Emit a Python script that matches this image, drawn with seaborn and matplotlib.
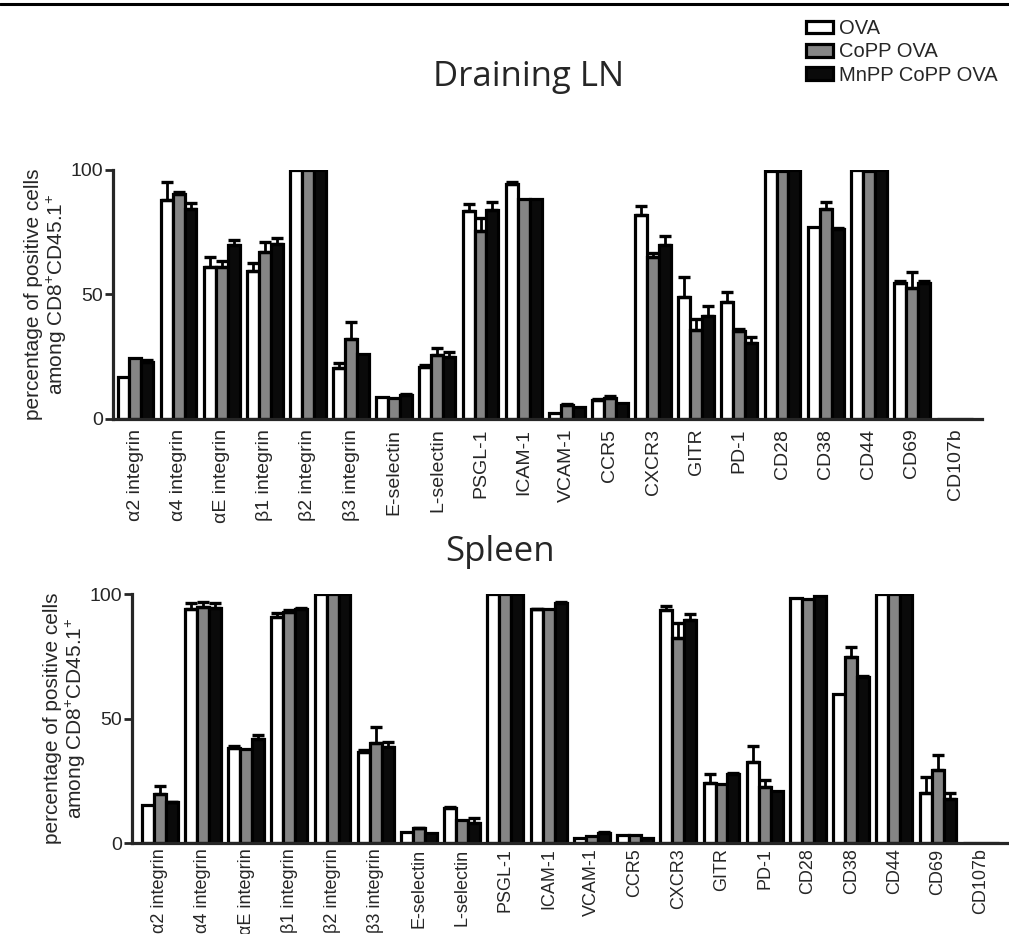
import numpy as np
import pandas as pd
import matplotlib
matplotlib.use("Agg")
import matplotlib.pyplot as plt
from matplotlib.lines import Line2D
from matplotlib.patches import Patch
import seaborn as sns

# ---- data -------------------------------------------------------------
markers = ["α2 integrin", "α4 integrin", "αE integrin", "β1 integrin", "β2 integrin",
           "β3 integrin", "E-selectin", "L-selectin", "PSGL-1", "ICAM-1", "VCAM-1",
           "CCR5", "CXCR3", "GITR", "PD-1", "CD28", "CD38", "CD44", "CD69", "CD107b"]
groups = ["OVA", "CoPP OVA", "MnPP CoPP OVA"]

# Draining LN: means and upper SEM
ova_ln = [17, 88, 61, 59.5, 100, 20.5, 9, 21, 83.5, 94.5, 2.3, 7.6, 82, 49, 47, 99.5, 77, 99.8, 54.5, 0]
copp_ln = [24.5, 90.5, 61, 67, 100, 32, 8.6, 25.7, 75.5, 88.5, 5.5, 8.6, 65.2, 35.7, 35.2, 99.5, 84.2, 99.5, 52.5, 0]
mnpp_ln = [23, 84.2, 70, 70.3, 100, 26, 9.8, 25, 84, 88.5, 4.8, 6.3, 69.8, 41.5, 30.4, 99.8, 76.3, 99.8, 54.8, 0]
ova_ln_err = [0, 7, 4, 3, 0, 2, 0, 0.6, 3, 0.5, 0, 0.3, 3.6, 8, 3.8, 0, 0, 0, 0.8, 0]
copp_ln_err = [0, 0.8, 2.5, 4, 0, 7, 0, 3, 5.4, 0, 0.5, 0.5, 1.3, 4.3, 1, 0, 2.8, 0, 6.7, 0]
mnpp_ln_err = [0.5, 2.4, 2, 2.3, 0, 0, 0.3, 2, 3.3, 0, 0, 0, 3.7, 4, 2.6, 0, 0.5, 0, 0.7, 0]

# Spleen: means and upper SEM
ova_sp = [15.3, 93.8, 38.3, 90.9, 100, 36.7, 4.3, 13.9, 100, 93.8, 2.1, 3.2, 93.6, 24.3, 32.6, 98.3, 60, 100, 20.2, 0]
copp_sp = [19.7, 94.9, 37.8, 92.9, 100, 40, 5.9, 9.2, 100, 94, 2.9, 3.2, 82.2, 23.9, 22.6, 98.2, 74.6, 100, 29.5, 0]
mnpp_sp = [16.3, 94.5, 41.6, 94, 100, 38.7, 3.9, 8.2, 100, 96.3, 4.1, 2.1, 89.6, 27.7, 20.9, 99.2, 66.8, 100, 17.5, 0]
ova_sp_err = [0, 2.7, 0.5, 1.3, 0, 0.5, 0, 0.5, 0, 0.3, 0, 0, 1.7, 3.6, 6.3, 0, 0, 0, 6.4, 0]
copp_sp_err = [3.2, 2, 0, 0.5, 0, 6.4, 0.3, 0, 0, 0, 0, 0, 6, 0, 2.7, 0, 4, 0, 5.8, 0]
mnpp_sp_err = [0.3, 1.7, 1.8, 0.3, 0, 2, 0, 1.7, 0, 0.5, 0.3, 0, 2.3, 0.3, 0, 0, 0.3, 0, 2.7, 0]

yticks = [0, 50, 100]
ylabel = "percentage of positive cells\namong CD8$^{+}$CD45.1$^{+}$"
colors = ["#ffffff", "#858585", "#0a0a0a"]

# ---- style ------------------------------------------------------------
sns.set_theme(style="ticks")
plt.rcParams["font.family"] = ["Liberation Sans", "DejaVu Sans"]
plt.rcParams["mathtext.fontset"] = "custom"
plt.rcParams["mathtext.rm"] = "Liberation Sans"
plt.rcParams["mathtext.it"] = "Liberation Sans"
plt.rcParams["mathtext.bf"] = "Liberation Sans"


def long_frame(means, errs):
    rows = []
    for g, m, e in zip(groups, means, errs):
        for mk, v, er in zip(markers, m, e):
            rows.append({"marker": mk, "group": g, "value": v, "err": er})
    return pd.DataFrame(rows)


def draw_panel(ax, df, xlim, labelpad, xsize, xpad):
    sns.barplot(data=df, x="marker", y="value", hue="group", order=markers,
                hue_order=groups, palette=colors, edgecolor="black",
                linewidth=2.3, width=0.83, errorbar=None, legend=False,
                saturation=1, ax=ax)
    # upper error bars on each bar
    for cont, g in zip(ax.containers, groups):
        sub = df[df["group"] == g].set_index("marker").loc[markers]
        xs, ys, es = [], [], []
        for bar, v, e in zip(cont.patches, sub["value"], sub["err"]):
            if e > 0:
                xs.append(bar.get_x() + bar.get_width() / 2)
                ys.append(v)
                es.append(e)
        if xs:
            ax.errorbar(xs, ys, yerr=[np.zeros(len(es)), es], fmt="none",
                        ecolor="black", elinewidth=2.0, capsize=4,
                        capthick=2.4, zorder=5)
    ax.set_ylim(0, 100)
    ax.set_xlim(*xlim)
    ax.set_yticks(yticks)
    ax.set_xlabel("")
    ax.set_ylabel(ylabel, fontsize=15, linespacing=1.1, labelpad=labelpad)
    ax.tick_params(axis="y", length=6, width=2, labelsize=14, pad=1)
    ax.tick_params(axis="x", length=0, labelsize=xsize, rotation=90, pad=xpad)
    for lbl in ax.get_xticklabels():
        lbl.set_verticalalignment("top")
    sns.despine(ax=ax)
    ax.spines["left"].set_linewidth(2.3)
    ax.spines["bottom"].set_linewidth(2.3)
    ax.spines["left"].set_bounds(0, 100)
    ax.patch.set_alpha(0)


fig = plt.figure(figsize=(10.09, 9.34), dpi=100)
ax1 = fig.add_axes([0.112, 0.5514, 0.861, 0.2666])
ax2 = fig.add_axes([0.1308, 0.0974, 0.867, 0.2666])

draw_panel(ax1, long_frame([ova_ln, copp_ln, mnpp_ln], [ova_ln_err, copp_ln_err, mnpp_ln_err]),
           (-0.52, 19.62), 1, 14, 7)
draw_panel(ax2, long_frame([ova_sp, copp_sp, mnpp_sp], [ova_sp_err, copp_sp_err, mnpp_sp_err]),
           (-0.64, 19.6), 1, 13, 4)

title_font = ["Open Sans", "DejaVu Sans"]
fig.text(529 / 1009, 1 - 86 / 934, "Draining LN", ha="center", va="baseline",
         fontsize=25, family=title_font)
fig.text(500 / 1009, 1 - 561 / 934, "Spleen", ha="center", va="baseline",
         fontsize=25, family=title_font)

# rule across the top edge
fig.add_artist(Line2D([0, 1], [1 - 4 / 934, 1 - 4 / 934], color="black", lw=2.2))

handles = [Patch(facecolor=c, edgecolor="black", linewidth=2.3) for c in colors]
fig.legend(handles, groups, loc="upper left", bbox_to_anchor=(806 / 1009, 1 - 19 / 934),
           frameon=False, fontsize=14.5, handlelength=1.35, handleheight=0.6,
           handletextpad=0.3, labelspacing=0.22, borderaxespad=0, borderpad=0)

fig.savefig("out.png", dpi=100)
